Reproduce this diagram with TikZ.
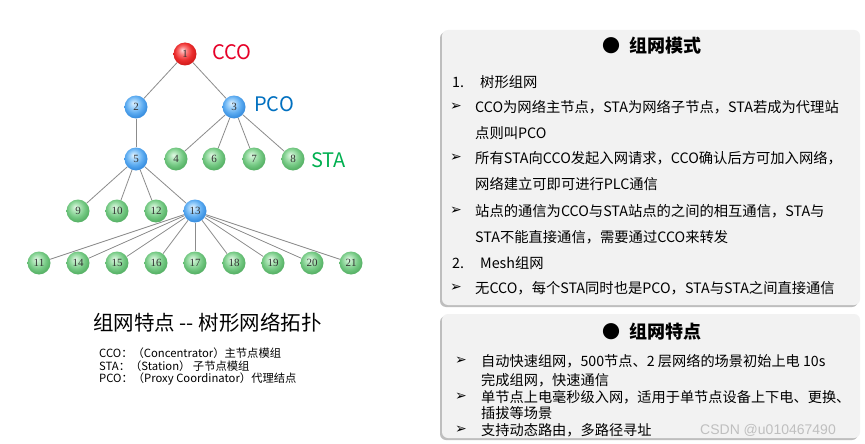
\documentclass[tikz,border=0pt]{standalone}
\usepackage{fontspec}
\setmainfont[Ligatures=NoCommon]{Noto Sans CJK SC}
\newfontfamily\symfont{DejaVu Sans}
\newfontfamily\numfont{Liberation Serif}
\newfontfamily\wmfont{Liberation Sans}
\definecolor{cred}{RGB}{230,0,40}
\definecolor{cblue}{RGB}{0,112,192}
\definecolor{cgreen}{RGB}{0,176,80}
\definecolor{boxfill}{RGB}{242,242,242}
\definecolor{boxshadow}{RGB}{190,190,190}
\definecolor{edgecol}{RGB}{140,140,140}
\pgfdeclareradialshading{ballR}{\pgfqpoint{-6bp}{9bp}}{%
  color(0bp)=(rgb,255:red,255;green,215;blue,215);
  color(10bp)=(rgb,255:red,250;green,110;blue,110);
  color(19bp)=(rgb,255:red,235;green,45;blue,45);
  color(26bp)=(rgb,255:red,215;green,30;blue,30);
  color(50bp)=(rgb,255:red,180;green,20;blue,20)}
\pgfdeclareradialshading{ballB}{\pgfqpoint{-6bp}{9bp}}{%
  color(0bp)=(rgb,255:red,225;green,242;blue,255);
  color(10bp)=(rgb,255:red,150;green,205;blue,250);
  color(19bp)=(rgb,255:red,90;green,170;blue,240);
  color(26bp)=(rgb,255:red,60;green,145;blue,225);
  color(50bp)=(rgb,255:red,40;green,110;blue,200)}
\pgfdeclareradialshading{ballG}{\pgfqpoint{-6bp}{9bp}}{%
  color(0bp)=(rgb,255:red,225;green,248;blue,228);
  color(10bp)=(rgb,255:red,165;green,225;blue,175);
  color(19bp)=(rgb,255:red,115;green,200;blue,130);
  color(26bp)=(rgb,255:red,90;green,180;blue,105);
  color(50bp)=(rgb,255:red,60;green,150;blue,75)}
\tikzset{
  ball/.style={circle, minimum size=23pt, inner sep=0pt,
    font=\numfont\fontsize{11}{11}\selectfont, text=black!80},
  rball/.style={ball, shading=ballR},
  bball/.style={ball, shading=ballB},
  gball/.style={ball, shading=ballG},
  edge/.style={draw=edgecol, line width=0.8pt},
  lbl/.style={anchor=west, inner sep=0pt, font=\fontsize{20}{22}\selectfont},
  txt/.style={anchor=west, inner sep=0pt, font=\fontsize{14.3}{16}\selectfont, text=black},
  txtc/.style={anchor=west, inner sep=0pt, font=\fontsize{14.2}{16}\selectfont, text=black},
  arr/.style={anchor=west, inner sep=0pt, font=\symfont\fontsize{14}{16}\selectfont},
  leg/.style={anchor=west, inner sep=0pt, font=\fontsize{11.3}{12}\selectfont},
  boxttl/.style={inner sep=0pt, font=\bfseries\fontsize{18}{20}\selectfont},
}
\begin{document}
\begin{tikzpicture}[x=1pt,y=-1pt]
\useasboundingbox (0,0) rectangle (865,444);
\fill[white] (0,0) rectangle (865,444);
% tree nodes
\node[rball] (n1) at (185,54) {1};
\node[bball] (n2) at (136,107) {2};
\node[bball] (n3) at (234,107) {3};
\node[bball] (n5) at (136,159) {5};
\node[gball] (n4) at (176,159) {4};
\node[gball] (n6) at (214,159) {6};
\node[gball] (n7) at (254,159) {7};
\node[gball] (n8) at (293,159) {8};
\node[gball] (n9) at (78,211) {9};
\node[gball] (n10) at (117,211) {10};
\node[gball] (n12) at (156,211) {12};
\node[bball] (n13) at (195,211) {13};
\node[gball] (n11) at (39,263) {11};
\node[gball] (n14) at (78,263) {14};
\node[gball] (n15) at (117,263) {15};
\node[gball] (n16) at (156,263) {16};
\node[gball] (n17) at (195,263) {17};
\node[gball] (n18) at (234,263) {18};
\node[gball] (n19) at (273,263) {19};
\node[gball] (n20) at (312,263) {20};
\node[gball] (n21) at (351,263) {21};
% edges
\draw[edge] (n1) -- (n2);
\draw[edge] (n1) -- (n3);
\draw[edge] (n2) -- (n5);
\foreach \c in {n4,n6,n7,n8} \draw[edge] (n3) -- (\c);
\foreach \c in {n9,n10,n12,n13} \draw[edge] (n5) -- (\c);
\foreach \c in {n11,n14,n15,n16,n17,n18,n19,n20,n21} \draw[edge] (n13) -- (\c);
% labels
\node[lbl, text=cred] (lcco) at (212,52) {CCO};
\node[lbl, text=cblue] (lpco) at (254,104) {PCO};
\node[lbl, text=cgreen] (lsta) at (311,160) {STA};
% title and legend
\node[anchor=west, inner sep=0pt, font=\fontsize{20.5}{22}\selectfont] (ttl) at (93,323) {组网特点 -{}- 树形网络拓扑};
\node[leg] (lg1) at (99,353) {CCO：（Concentrator）主节点模组};
\node[leg] (lg2) at (99,366) {STA：（Station） 子节点模组};
\node[leg] (lg3) at (99,379) {PCO：（Proxy Coordinator）代理结点};
% boxes
\fill[boxshadow, rounded corners=6pt] (440,32) rectangle (858,307);
\fill[boxfill, rounded corners=6pt] (442,30) rectangle (860,305);
\fill[boxshadow, rounded corners=6pt] (440,316) rectangle (858,440);
\fill[boxfill, rounded corners=6pt] (442,314) rectangle (860,438);
% box 1 text
\node[boxttl] (t1) at (652,46) {●\hspace{0.5em}组网模式};
\node[txt] (a0) at (452,82) {1.};
\node[txt] (a1) at (480,82) {树形组网};
\node[arr] (b1) at (450,107) {➢};
\node[txt] (c1) at (475,107) {CCO为网络主节点，STA为网络子节点，STA若成为代理站};
\node[txt] (c1b) at (475,133) {点则叫PCO};
\node[arr] (b2) at (450,158) {➢};
\node[txt] (c2) at (475,158) {所有STA向CCO发起入网请求，CCO确认后方可加入网络，};
\node[txt] (c2b) at (475,184) {网络建立可即可进行PLC通信};
\node[arr] (b3) at (450,211) {➢};
\node[txt] (c3) at (475,211) {站点的通信为CCO与STA站点的之间的相互通信，STA与};
\node[txt] (c3b) at (475,237) {STA不能直接通信，需要通过CCO来转发};
\node[txt] (a2) at (452,263) {2.};
\node[txt] (a3) at (480,263) {Mesh组网};
\node[arr] (b4) at (450,288) {➢};
\node[txt] (c4) at (475,288) {无CCO，每个STA同时也是PCO，STA与STA之间直接通信};
% box 2 text
\node[boxttl] (t2) at (652,332) {●\hspace{0.5em}组网特点};
\node[arr] (d1) at (455,361) {➢};
\node[txtc] (e1) at (481,361) {自动快速组网，500节点、2 层网络的场景初始上电 10s};
\node[txtc] (e1b) at (481,380) {完成组网，快速通信};
\node[arr] (d2) at (455,397) {➢};
\node[txtc] (e2) at (481,397) {单节点上电毫秒级入网，适用于单节点设备上下电、更换、};
\node[txtc] (e2b) at (481,413) {插拔等场景};
\node[arr] (d3) at (455,430) {➢};
\node[txtc] (e3) at (481,430) {支持动态路由，多路径寻址};
\node[anchor=west, inner sep=0pt, font=\wmfont\fontsize{14}{16}\selectfont, text=black!25] (wm) at (700,430) {CSDN @u010467490};
\end{tikzpicture}
\end{document}
